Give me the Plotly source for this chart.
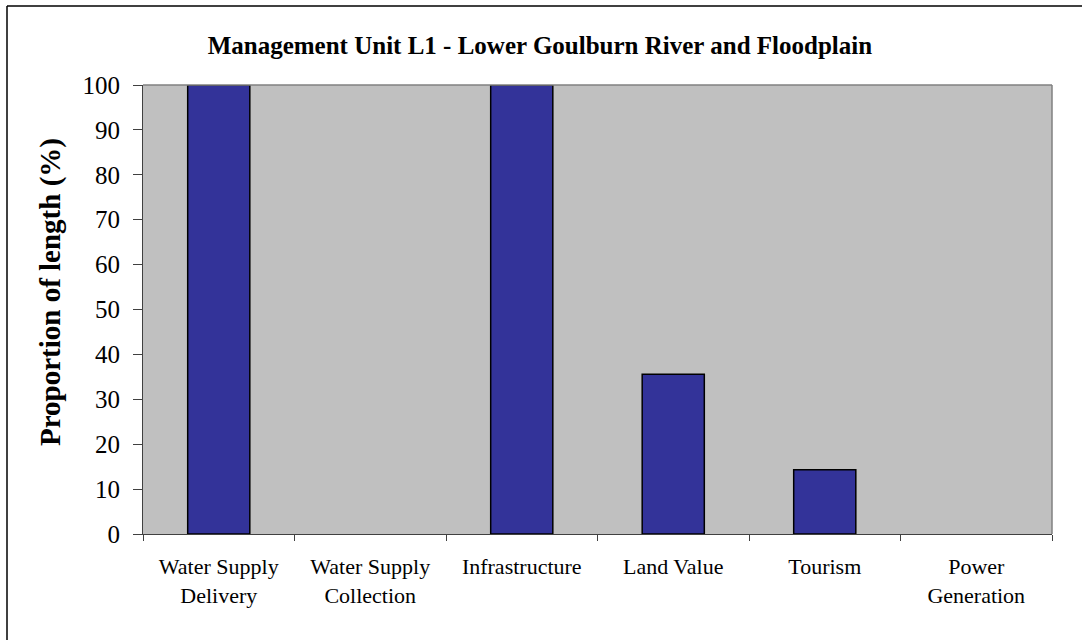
import plotly.graph_objects as go

# Categories and values
categories = ["Water Supply<br>Delivery", "Water Supply<br>Collection", "Infrastructure",
              "Land Value", "Tourism", "Power<br>Generation"]
proportion = [100, 0, 100, 35.6, 14.3, 0]
y_ticks = list(range(0, 101, 10))

W, H = 1082, 640
L, R, T, B = 143, 30, 85, 106
pw, ph = W - L - R, H - T - B

serif = "Liberation Serif, Times New Roman, serif"

fig = go.Figure()

# zero-height bars leave no outline in the original
fig.add_trace(go.Bar(
    x=categories, y=proportion,
    marker=dict(color="#333399",
                line=dict(color="black", width=[1.5 if v > 0 else 0 for v in proportion])),
    showlegend=False, hoverinfo="x+y",
))

fig.update_layout(
    width=W, height=H,
    margin=dict(l=L, r=R, t=T, b=B),
    paper_bgcolor="white",
    plot_bgcolor="#C0C0C0",
    bargap=0.59,
    font=dict(family=serif, color="black"),
    title=dict(
        text="<b>Management Unit L1 - Lower Goulburn River and Floodplain</b>",
        x=0.499, xanchor="center", y=1 - 45 / H, yanchor="middle",
        font=dict(family=serif, size=25, color="black"),
    ),
)

fig.update_xaxes(
    showgrid=False, zeroline=False,
    showline=True, linecolor="#404040", linewidth=1,
    ticks="outside", tickson="boundaries", ticklen=6, tickcolor="#404040",
    tickfont=dict(family=serif, size=22),
    ticklabelstandoff=13,
)
fig.update_yaxes(
    range=[0, 100], tickvals=y_ticks,
    showgrid=False, zeroline=False,
    showline=True, linecolor="#404040", linewidth=1,
    ticks="outside", ticklen=9, tickcolor="#404040",
    tickfont=dict(family=serif, size=25),
    ticklabelstandoff=8,
)

# Y axis title
fig.add_annotation(
    text="<b>Proportion of length (%)</b>",
    xref="paper", yref="paper",
    x=(50 - L) / pw, y=(H - B - 292) / ph,
    textangle=-90, showarrow=False,
    xanchor="center", yanchor="middle",
    font=dict(family=serif, size=29, color="black"),
)

# Gray plot area frame (top & right)
fig.add_shape(type="line", xref="paper", yref="paper", x0=0, x1=1, y0=1, y1=1,
              line=dict(color="#808080", width=1.5))
fig.add_shape(type="line", xref="paper", yref="paper", x0=1, x1=1, y0=0, y1=1,
              line=dict(color="#808080", width=1.5))

# Outer chart border (only top and left visible)
bx = (7 - L) / pw
by = 1 + (T - 6) / ph
fig.add_shape(type="line", xref="paper", yref="paper", x0=bx, x1=bx, y0=-0.5, y1=by,
              line=dict(color="black", width=1.5))
fig.add_shape(type="line", xref="paper", yref="paper", x0=bx, x1=1.2, y0=by, y1=by,
              line=dict(color="black", width=1.5))

fig.write_html("out.html", config={"displayModeBar": False},
               post_script="document.body.style.margin='0';")
